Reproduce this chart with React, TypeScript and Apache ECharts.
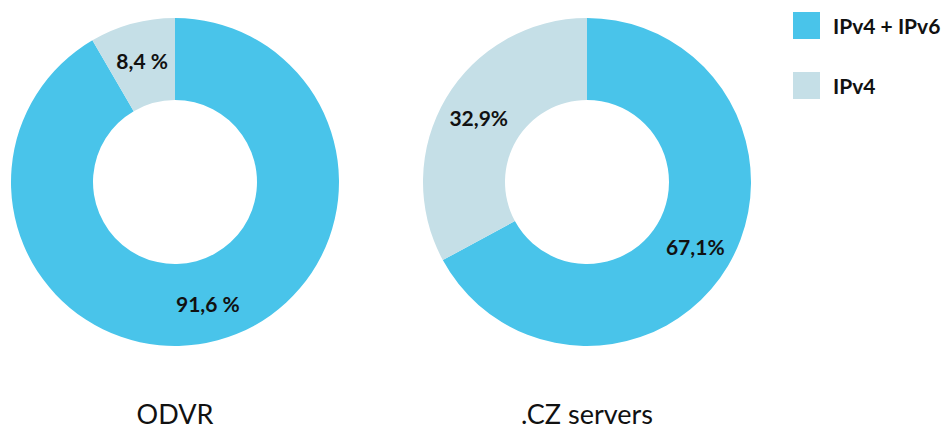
import React, { useEffect, useRef } from "react";
import * as echarts from "echarts";

const categories = ["IPv4 + IPv6", "IPv4"];
const odvrValues = [91.6, 8.4];
const odvrLabels = ["91,6 %", "8,4 %"];
const czValues = [67.1, 32.9];
const czLabels = ["67,1%", "32,9%"];
const chartTitles = ["ODVR", ".CZ servers"];
const colors = ["#49C4EA", "#C5DFE7"];

export default function App() {
  const ref = useRef<HTMLDivElement>(null);
  useEffect(() => {
    if (!ref.current) return;
    const chart = echarts.init(ref.current, null, { renderer: "svg" });
    const font = "Lato, 'Noto Sans', sans-serif";
    const makeSeries = (name: string, values: number[], labels: string[], cx: number) => ({
      type: "pie",
      name,
      center: [cx, 182],
      radius: [82, 164],
      startAngle: 90,
      clockwise: true,
      silent: true,
      label: {
        show: true,
        position: "inside",
        color: "#111",
        fontFamily: font,
        fontSize: 21,
        fontWeight: "bold",
        formatter: (p: any) => labels[p.dataIndex],
      },
      labelLine: { show: false },
      itemStyle: { borderWidth: 0 },
      data: values.map((v, i) => ({ name: categories[i], value: v })),
    });
    const titleStyle = { fontFamily: font, fontSize: 27, fontWeight: "normal", color: "#111", lineHeight: 28 };
    chart.setOption({
      animation: false,
      color: colors,
      legend: {
        left: 793,
        top: 12,
        padding: 0,
        orient: "vertical",
        itemWidth: 27,
        itemHeight: 27,
        itemGap: 33,
        icon: "rect",
        selectedMode: false,
        textStyle: { fontFamily: font, fontSize: 21, fontWeight: "bold", color: "#111", padding: [0, 0, 0, 8] },
        data: categories,
      },
      title: [
        { text: chartTitles[0], left: 175, top: 399, padding: 0, textAlign: "center", textStyle: titleStyle },
        { text: chartTitles[1], left: 587, top: 399, padding: 0, textAlign: "center", textStyle: titleStyle },
      ],
      series: [
        makeSeries("ODVR", odvrValues, odvrLabels, 175),
        makeSeries(".CZ servers", czValues, czLabels, 587),
      ],
    });
    return () => chart.dispose();
  }, []);
  return (
    <div
      ref={ref}
      style={{ position: "absolute", left: 0, top: 0, width: 946, height: 428, background: "#fff" }}
    />
  );
}
